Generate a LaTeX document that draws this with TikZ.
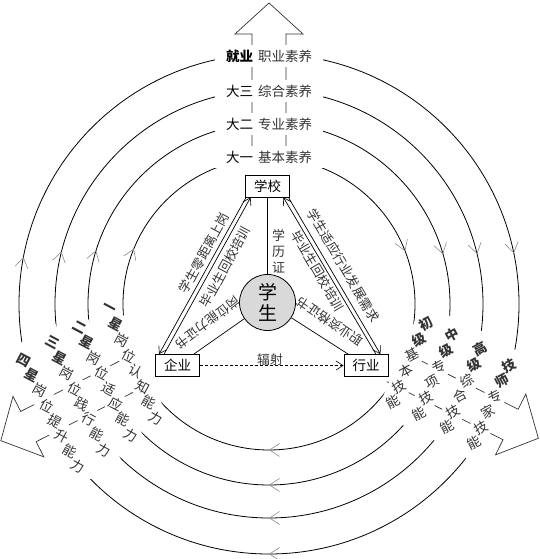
\documentclass[tikz,border=0pt]{standalone}
\usepackage{fontspec}
\setmainfont{Noto Sans CJK SC}
\usetikzlibrary{arrows.meta,calc,decorations.markings}

\definecolor{tipgray}{HTML}{8C8C8C}
\definecolor{stugray}{HTML}{D9D9D9}
\definecolor{txtgray}{HTML}{333333}

\newcommand{\lblsize}{\fontsize{13.5}{15}\selectfont}
\newcommand{\smlsize}{\fontsize{12.8}{15}\selectfont}

\tikzset{
  flowtip/.tip={Straight Barb[length=10pt,width=13pt,color=tipgray,line width=0.6pt]},
  smalltip/.tip={Straight Barb[length=7pt,width=9pt,line width=0.6pt]}
}

% one tilted column of characters on a side band
\newcommand{\bandcol}[7]{% name, angle, radius, column dir, tilt, count, chars
  \node[colbox, minimum width={(#6+1)*17pt}, rotate=#4] (#1) at ($(C)+(#2:#3pt)$) {};
  \foreach \ch [count=\k] in {#7}
    \node[colchar, rotate=#5] (#1-\k) at ($(#1.center)+(#4:{(\k-(#6+1)/2)*17pt})$) {\ch};
}

% block arrow outline with open shaft
\newcommand{\bigarrow}[1]{%
  \begin{scope}[shift={(C)}, rotate=#1]
    \draw[bigline] (140,17) -- (270,17) -- (270,34) -- (301,0) -- (270,-34) -- (270,-17) -- (140,-17);
  \end{scope}}

\begin{document}
\begin{tikzpicture}[x=1pt, y=1pt,
  ring/.style={line width=0.8pt, postaction={decorate}},
  bigline/.style={draw=black!80, line width=0.7pt},
  rowbox/.style={fill=white, minimum width=108pt, minimum height=22pt, inner sep=0pt, font=\lblsize, text=txtgray},
  colbox/.style={fill=white, minimum height=22pt, inner sep=0pt},
  colchar/.style={inner sep=0pt, font=\lblsize, text=txtgray},
  box/.style={draw, line width=0.8pt, fill=white, minimum width=44pt, minimum height=22pt, inner sep=0pt, font=\lblsize},
  stu/.style={circle, draw, line width=0.8pt, fill=stugray, minimum size=56pt, inner sep=0pt, align=center, font=\fontsize{19}{21}\selectfont},
  linelab/.style={inner sep=0pt, font=\smlsize, text=txtgray},
  link/.style={line width=0.7pt}
]
\useasboundingbox (0,0) rectangle (539,559);
\coordinate (C) at (269,255);

% circulating rings
\foreach \r/\fr/\fl in {146/0.1911/0.8119, 181/0.2056/0.7978, 214/0.2125/0.7894, 250/0.2175/0.7800}
  \draw[ring, decoration={markings,
      mark=at position \fr with {\arrow{flowtip}},
      mark=at position 0.5 with {\arrow{flowtip}},
      mark=at position \fl with {\arrow{flowtip}}}]
    ([shift={(90:\r pt)}]C) arc[start angle=90, delta angle=-360, radius=\r pt];

% three block arrows
\bigarrow{90}
\bigarrow{207}
\bigarrow{-26.5}

% top band
\foreach \r/\a/\b [count=\i] in {147/大一/基本素养, 180/大二/专业素养, 213/大三/综合素养, 248/\textbf{就业}/职业素养}
  \node[rowbox] (row\i) at ($(C)+(90:\r pt)$) {{\color{black}\a}\hspace{5pt}\b};

% left band
\bandcol{s1}{203.5}{149}{293.5}{-28}{8}{\textbf{一},\textbf{星},岗,位,认,知,能,力}
\bandcol{s2}{205.2}{181}{295.2}{-28}{8}{\textbf{二},\textbf{星},岗,位,适,应,能,力}
\bandcol{s3}{205.8}{212}{295.8}{-28}{8}{\textbf{三},\textbf{星},岗,位,践,行,能,力}
\bandcol{s4}{206.6}{244}{296.6}{-28}{8}{\textbf{四},\textbf{星},岗,位,提,升,能,力}

% right band
\bandcol{g1}{-22.8}{152}{-112.8}{28}{6}{\textbf{初},\textbf{级},基,本,技,能}
\bandcol{g2}{-22.9}{181}{-112.9}{28}{6}{\textbf{中},\textbf{级},专,项,技,能}
\bandcol{g3}{-23.4}{212}{-113.4}{28}{6}{\textbf{高},\textbf{级},综,合,技,能}
\bandcol{g4}{-24.3}{244}{-114.3}{28}{6}{\textbf{技},\textbf{师},专,家,技,能}

% inner triangle
\node[box] (xx) at (267.5,373) {学校};
\node[box] (qy) at (177.5,193.5) {企业};
\node[box] (hy) at (366,193.5) {行业};
\node[stu] (st) at (267.5,256.5) {学\\生};

\draw[link] (xx.south) -- (st.north);
\node[linelab, align=center, font=\fontsize{13}{16}\selectfont] (xlz) at (278.5,308) {学\\历\\证};

\draw[link, -{smalltip}] ([xshift=1pt]xx.south west) -- ([xshift=4pt]qy.north west);
\draw[link, {smalltip}-] ([xshift=5.5pt]xx.south west) -- ([xshift=9pt]qy.north west);
\draw[link, -{smalltip}] ([xshift=-1.5pt]xx.south east) -- ([xshift=-8pt]hy.north east);
\draw[link, {smalltip}-] ([xshift=-6.5pt]xx.south east) -- ([xshift=-12.5pt]hy.north east);

\node[linelab, rotate=61.5] (l1) at (204,306) {学生零距离上岗};
\node[linelab, rotate=61.5] (l2) at (225,292) {毕业生回校培训};
\node[linelab, rotate=-59.5] (r1) at (343.5,293.5) {学生适应行业发展需求};
\node[linelab, rotate=-59.5] (r2) at (317.5,288) {毕业生回校培训};

\draw[link] (st) -- (qy);
\draw[link] (st) -- (hy);
\node[linelab, rotate=217] (l3) at (207.5,236.5) {岗位能力证书};
\node[linelab, rotate=146] (r3) at (330,237.5) {职业资格证书};

\draw[link, dash pattern=on 3pt off 2pt, -{smalltip}] (qy) -- (hy);
\node[linelab] (fs) at (270,199) {辐射};
\end{tikzpicture}
\end{document}
